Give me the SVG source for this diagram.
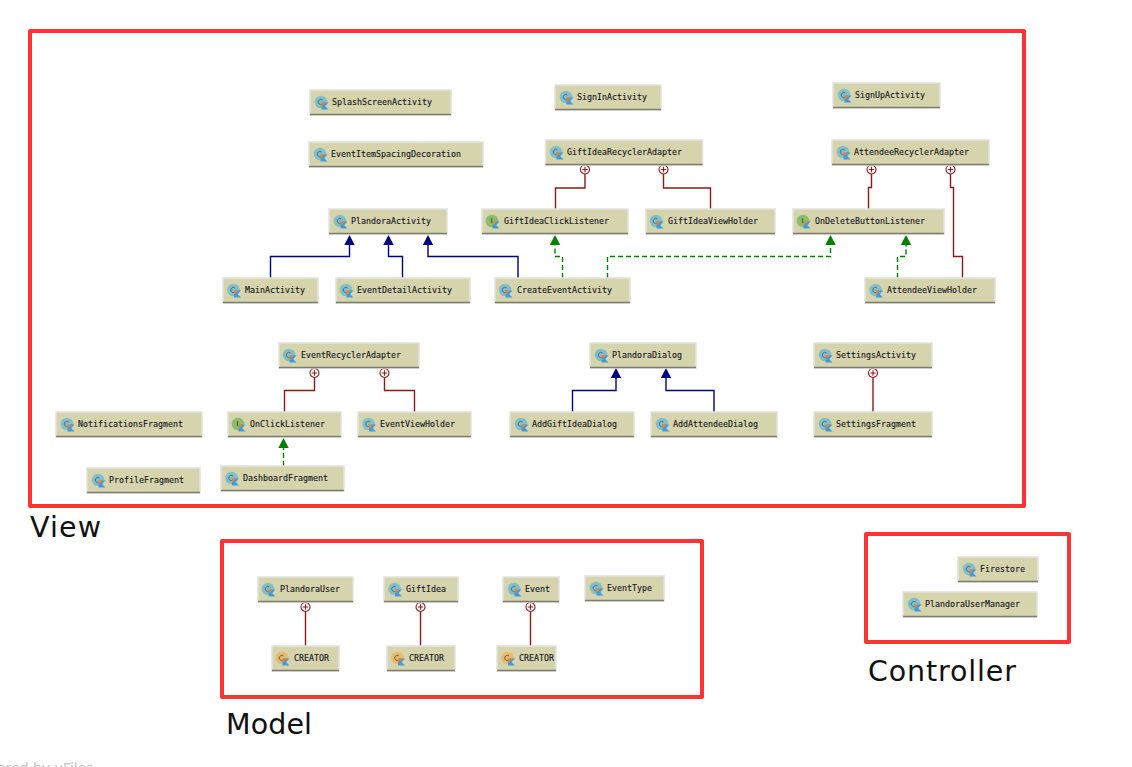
<svg xmlns="http://www.w3.org/2000/svg" width="1132" height="767" viewBox="0 0 1132 767">
<style>
.bg{fill:#fff}
.frame{fill:none;stroke:#ff3333;stroke-width:4;stroke-linejoin:round}
.big{font-family:"DejaVu Sans",sans-serif;font-size:28.500px;fill:#111}
.wm{font-family:"DejaVu Sans",sans-serif;font-size:14px;fill:#c4c4c4}
.n{fill:#d6d4ac;stroke:#e2e2e0;stroke-width:1.5}
.b{stroke:#7e7e70;stroke-width:1.5;fill:none}
.t{font-family:"DejaVu Sans Mono",monospace;font-size:8.3px;fill:#14141e;stroke:#14141e;stroke-width:0.12}
.e{fill:none;stroke:#000080}
.c{fill:none;stroke:#8b1a1a}
.i{fill:none;stroke:#008000;stroke-dasharray:5 3}
.e,.c,.i{stroke-width:1.4}
</style>
<defs>
<marker id="ae" markerUnits="userSpaceOnUse" markerWidth="12" markerHeight="12" viewBox="0 -6 12 12" refX="0" refY="0" orient="auto"><path d="M0,-5.200L10,0L0,5.200Z" fill="#000080"/></marker>
<marker id="ai" markerUnits="userSpaceOnUse" markerWidth="12" markerHeight="12" viewBox="0 -6 12 12" refX="0" refY="0" orient="auto"><path d="M0,-5.200L10,0L0,5.200Z" fill="#008000"/></marker>
<marker id="pl" markerUnits="userSpaceOnUse" markerWidth="12" markerHeight="12" viewBox="-11 -6 12 12" refX="0" refY="0" orient="auto"><circle cx="-4.500" cy="0" r="4.500" fill="#fff" stroke="#8b1a1a" stroke-width="1.100"/><path d="M-7.200,0H-1.800M-4.500,-2.700V2.700" stroke="#8b1a1a" stroke-width="1.100"/></marker>
<g id="k"><path d="M0,0H7L3.500,3.500L7,7H0Z" fill="#3d9be0"/><path d="M0,0H4.500L0,4.500Z" fill="#f08030"/></g>
<g id="ic"><circle cx="0" cy="0" r="6.300" fill="#7fc0cc"/><path d="M1.500,-2A2.600,2.600 0 1 0 1.500,2" fill="none" stroke="#5a6a70" stroke-width="1"/><use href="#k" x="0.500" y="0.500"/></g>
<g id="ii"><circle cx="0" cy="0" r="6.300" fill="#8cbd6c"/><path d="M-0.500,-3V2" stroke="#4a6a3a" stroke-width="1.200"/><use href="#k" x="0.500" y="0.500"/></g>
<g id="io"><circle cx="0" cy="0" r="6.300" fill="#e8ba6a"/><path d="M1.500,-2A2.600,2.600 0 1 0 1.500,2" fill="none" stroke="#6a6050" stroke-width="1"/><use href="#k" x="0.500" y="0.500"/></g>
</defs>
<rect class="bg" width="1132" height="767"/>
<g id="frames">
<rect class="frame" x="30" y="31" width="994" height="475"/>
<rect class="frame" x="222" y="541" width="480" height="156"/>
<rect class="frame" x="866" y="534" width="203" height="108"/>
<text class="big" x="30" y="537" textLength="71" lengthAdjust="spacing">View</text>
<text class="big" x="226" y="734" textLength="86" lengthAdjust="spacing">Model</text>
<text class="big" x="868" y="681" textLength="148" lengthAdjust="spacing">Controller</text>
<text class="wm" x="-31" y="773">Powered by yFiles</text>
</g>
<g id="connectors">
<path class="e" marker-end="url(#ae)" d="M270.500,278V256.500H349.500V245"/>
<path class="e" marker-end="url(#ae)" d="M402.500,278V256.500H388.500V245"/>
<path class="e" marker-end="url(#ae)" d="M518,278V256.500H428V245"/>
<path class="e" marker-end="url(#ae)" d="M572.500,412V390.500H616V378"/>
<path class="e" marker-end="url(#ae)" d="M714,412V390.500H666V378"/>
<path class="c" marker-start="url(#pl)" d="M585,174V188H555.500V209"/>
<path class="c" marker-start="url(#pl)" d="M663.500,174V188H710.500V209"/>
<path class="c" marker-start="url(#pl)" d="M871.500,174V187.500H868.500V209"/>
<path class="c" marker-start="url(#pl)" d="M950.500,174V187.500H953.500V256.500H962.500V278"/>
<path class="c" marker-start="url(#pl)" d="M314.500,377.500V390.500H284.500V412"/>
<path class="c" marker-start="url(#pl)" d="M384.500,377.500V390.500H414.500V412"/>
<path class="c" marker-start="url(#pl)" d="M873,377.500V412"/>
<path class="c" marker-start="url(#pl)" d="M305.500,611.500V646"/>
<path class="c" marker-start="url(#pl)" d="M420.500,611.500V646"/>
<path class="c" marker-start="url(#pl)" d="M530.500,611.500V646"/>
<path class="i" marker-end="url(#ai)" d="M562.500,278V256.500H555V245"/>
<path class="i" marker-end="url(#ai)" d="M607.500,278V256.500H830.500V245"/>
<path class="i" marker-end="url(#ai)" d="M897.500,278V256.500H906V245"/>
<path class="i" marker-end="url(#ai)" d="M283.500,466V448"/>
</g>
<g id="n-SplashScreenActivity"><rect class="n" x="310" y="90" width="141" height="25"/><path class="b" d="M310,114.500H451"/><use href="#ic" x="321" y="102"/><text class="t" x="332" y="105">SplashScreenActivity</text></g>
<g id="n-SignInActivity"><rect class="n" x="555" y="85" width="106" height="25"/><path class="b" d="M555,109.500H661"/><use href="#ic" x="566" y="97"/><text class="t" x="577" y="100">SignInActivity</text></g>
<g id="n-SignUpActivity"><rect class="n" x="833" y="83" width="107" height="25"/><path class="b" d="M833,107.500H940"/><use href="#ic" x="844" y="95"/><text class="t" x="855" y="98">SignUpActivity</text></g>
<g id="n-EventItemSpacingDecoration"><rect class="n" x="309" y="142" width="174" height="25"/><path class="b" d="M309,166.500H483"/><use href="#ic" x="320" y="154"/><text class="t" x="331" y="157">EventItemSpacingDecoration</text></g>
<g id="n-GiftIdeaRecyclerAdapter"><rect class="n" x="545.500" y="140" width="157" height="25"/><path class="b" d="M545.500,164.500H702.500"/><use href="#ic" x="556" y="152"/><text class="t" x="567" y="155">GiftIdeaRecyclerAdapter</text></g>
<g id="n-AttendeeRecyclerAdapter"><rect class="n" x="832" y="140" width="157" height="25"/><path class="b" d="M832,164.500H989"/><use href="#ic" x="843" y="152"/><text class="t" x="854" y="155">AttendeeRecyclerAdapter</text></g>
<g id="n-PlandoraActivity"><rect class="n" x="329" y="209" width="118" height="25"/><path class="b" d="M329,233.500H447"/><use href="#ic" x="340" y="221"/><text class="t" x="351" y="224">PlandoraActivity</text></g>
<g id="n-GiftIdeaClickListener"><rect class="n" x="482" y="209" width="146" height="25"/><path class="b" d="M482,233.500H628"/><use href="#ii" x="492" y="221"/><text class="t" x="504" y="224">GiftIdeaClickListener</text></g>
<g id="n-GiftIdeaViewHolder"><rect class="n" x="646" y="209" width="129" height="25"/><path class="b" d="M646,233.500H775"/><use href="#ic" x="656" y="221"/><text class="t" x="668" y="224">GiftIdeaViewHolder</text></g>
<g id="n-OnDeleteButtonListener"><rect class="n" x="793" y="209" width="151" height="25"/><path class="b" d="M793,233.500H944"/><use href="#ii" x="803" y="221"/><text class="t" x="815" y="224">OnDeleteButtonListener</text></g>
<g id="n-MainActivity"><rect class="n" x="223" y="278" width="95" height="25"/><path class="b" d="M223,302.500H318"/><use href="#ic" x="233.500" y="290"/><text class="t" x="245" y="293">MainActivity</text></g>
<g id="n-EventDetailActivity"><rect class="n" x="336" y="278" width="134" height="25"/><path class="b" d="M336,302.500H470"/><use href="#ic" x="346" y="290"/><text class="t" x="357" y="293">EventDetailActivity</text></g>
<g id="n-CreateEventActivity"><rect class="n" x="495" y="278" width="135" height="25"/><path class="b" d="M495,302.500H630"/><use href="#ic" x="505" y="290"/><text class="t" x="517" y="293">CreateEventActivity</text></g>
<g id="n-AttendeeViewHolder"><rect class="n" x="865" y="278" width="130" height="25"/><path class="b" d="M865,302.500H995"/><use href="#ic" x="875.500" y="290"/><text class="t" x="887" y="293">AttendeeViewHolder</text></g>
<g id="n-EventRecyclerAdapter"><rect class="n" x="279" y="343" width="140" height="25"/><path class="b" d="M279,367.500H419"/><use href="#ic" x="289" y="355"/><text class="t" x="301" y="358">EventRecyclerAdapter</text></g>
<g id="n-PlandoraDialog"><rect class="n" x="590" y="343" width="106" height="25"/><path class="b" d="M590,367.500H696"/><use href="#ic" x="601" y="355"/><text class="t" x="612" y="358">PlandoraDialog</text></g>
<g id="n-SettingsActivity"><rect class="n" x="814" y="343" width="118" height="25"/><path class="b" d="M814,367.500H932"/><use href="#ic" x="825" y="355"/><text class="t" x="836" y="358">SettingsActivity</text></g>
<g id="n-NotificationsFragment"><rect class="n" x="56" y="412" width="146" height="25"/><path class="b" d="M56,436.500H202"/><use href="#ic" x="67" y="424"/><text class="t" x="78" y="427">NotificationsFragment</text></g>
<g id="n-OnClickListener"><rect class="n" x="228" y="412" width="113" height="25"/><path class="b" d="M228,436.500H341"/><use href="#ii" x="238" y="424"/><text class="t" x="250" y="427">OnClickListener</text></g>
<g id="n-EventViewHolder"><rect class="n" x="358" y="412" width="113" height="25"/><path class="b" d="M358,436.500H471"/><use href="#ic" x="368.500" y="424"/><text class="t" x="380" y="427">EventViewHolder</text></g>
<g id="n-AddGiftIdeaDialog"><rect class="n" x="510" y="412" width="124" height="25"/><path class="b" d="M510,436.500H634"/><use href="#ic" x="521" y="424"/><text class="t" x="532" y="427">AddGiftIdeaDialog</text></g>
<g id="n-AddAttendeeDialog"><rect class="n" x="651" y="412" width="126" height="25"/><path class="b" d="M651,436.500H777"/><use href="#ic" x="662" y="424"/><text class="t" x="673" y="427">AddAttendeeDialog</text></g>
<g id="n-SettingsFragment"><rect class="n" x="814" y="412" width="118" height="25"/><path class="b" d="M814,436.500H932"/><use href="#ic" x="825" y="424"/><text class="t" x="836" y="427">SettingsFragment</text></g>
<g id="n-ProfileFragment"><rect class="n" x="87" y="468" width="113" height="25"/><path class="b" d="M87,492.500H200"/><use href="#ic" x="98" y="480"/><text class="t" x="109" y="483">ProfileFragment</text></g>
<g id="n-DashboardFragment"><rect class="n" x="221" y="466" width="123" height="25"/><path class="b" d="M221,490.500H344"/><use href="#ic" x="231.500" y="478"/><text class="t" x="243" y="481">DashboardFragment</text></g>
<g id="n-PlandoraUser"><rect class="n" x="258" y="577" width="95" height="25"/><path class="b" d="M258,601.500H353"/><use href="#ic" x="268" y="589"/><text class="t" x="280" y="592">PlandoraUser</text></g>
<g id="n-GiftIdea"><rect class="n" x="384" y="577" width="74" height="25"/><path class="b" d="M384,601.500H458"/><use href="#ic" x="394.500" y="589"/><text class="t" x="406" y="592">GiftIdea</text></g>
<g id="n-Event"><rect class="n" x="503" y="577" width="56" height="25"/><path class="b" d="M503,601.500H559"/><use href="#ic" x="514" y="589"/><text class="t" x="525" y="592">Event</text></g>
<g id="n-EventType"><rect class="n" x="585" y="576" width="79" height="25"/><path class="b" d="M585,600.500H664"/><use href="#ic" x="596" y="588"/><text class="t" x="607" y="591">EventType</text></g>
<g id="n-CREATOR-1"><rect class="n" x="272" y="646" width="67" height="25"/><path class="b" d="M272,670.500H339"/><use href="#io" x="282" y="658"/><text class="t" x="294" y="661">CREATOR</text></g>
<g id="n-CREATOR-2"><rect class="n" x="387" y="646" width="68" height="25"/><path class="b" d="M387,670.500H455"/><use href="#io" x="397.500" y="658"/><text class="t" x="409" y="661">CREATOR</text></g>
<g id="n-CREATOR-3"><rect class="n" x="497" y="646" width="59" height="25"/><path class="b" d="M497,670.500H556"/><use href="#io" x="507.500" y="658"/><text class="t" x="519" y="661">CREATOR</text></g>
<g id="n-Firestore"><rect class="n" x="958" y="557" width="80" height="25"/><path class="b" d="M958,581.500H1038"/><use href="#ic" x="969" y="569"/><text class="t" x="980" y="572">Firestore</text></g>
<g id="n-PlandoraUserManager"><rect class="n" x="903" y="592" width="134" height="25"/><path class="b" d="M903,616.500H1037"/><use href="#ic" x="914" y="604"/><text class="t" x="925" y="607">PlandoraUserManager</text></g>
</svg>
